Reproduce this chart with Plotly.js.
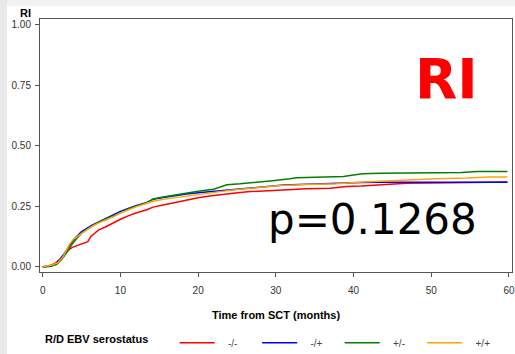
<!DOCTYPE html>
<html>
<head>
<meta charset="utf-8">
<script src="https://cdn.plot.ly/plotly-3.0.1.min.js"></script>
<style>
  html, body { margin: 0; padding: 0; }
  body { width: 515px; height: 354px; background: #f2f2f2; position: relative; overflow: hidden; }
  #leftstrip { position: absolute; left: 0; top: 0; width: 7px; height: 354px; background: #e9e9e9; }
  #sheet { position: absolute; left: 7px; top: 6px; width: 508px; height: 348px; background: #ffffff; }
  #chart { position: absolute; left: 0; top: 0; width: 515px; height: 354px; }
</style>
</head>
<body>
<div id="leftstrip"></div>
<div id="sheet"></div>
<div id="chart"></div>
<script>
// Series: cumulative incidence of RI by R/D EBV serostatus
const seriesNames = ['-/-', '-/+', '+/-', '+/+'];
const seriesColors = ['#ff0000', '#0000ff', '#008000', '#ffa500'];

const redX = [0, 0.8, 1.5, 2.2, 2.8, 3.3, 3.8, 4.5, 5.2, 5.8, 6.2, 6.7, 7.2, 8, 9, 10, 11, 12, 13.4, 14.2, 15.5, 17, 18.5, 20, 21.5, 22.8, 24.5, 26.7, 28.5, 30, 31.8, 34, 37, 39.1, 41, 43.4, 44.1, 46.8, 50, 53, 57.1, 59.8];
const redY = [0, 0.003, 0.012, 0.03, 0.05, 0.068, 0.08, 0.088, 0.097, 0.103, 0.125, 0.14, 0.152, 0.163, 0.18, 0.196, 0.21, 0.222, 0.235, 0.246, 0.255, 0.266, 0.276, 0.285, 0.292, 0.298, 0.303, 0.31, 0.313, 0.316, 0.32, 0.322, 0.324, 0.331, 0.333, 0.337, 0.339, 0.345, 0.346, 0.347, 0.35, 0.35];

const blueX = [0, 1, 1.7, 2.2, 2.7, 3.2, 3.7, 4.2, 5.0, 5.6, 6.3, 7, 8, 9, 10, 11, 12, 13.4, 14.2, 15.5, 17, 18.5, 20, 22.8, 24.5, 26.7, 28.5, 31, 33, 35.3, 37, 39.1, 41, 43.4, 50, 55, 59.8];
const blueY = [0, 0.002, 0.01, 0.03, 0.05, 0.075, 0.1, 0.12, 0.145, 0.158, 0.17, 0.182, 0.198, 0.212, 0.228, 0.24, 0.252, 0.265, 0.278, 0.286, 0.294, 0.3, 0.305, 0.313, 0.32, 0.327, 0.331, 0.337, 0.339, 0.342, 0.344, 0.347, 0.348, 0.349, 0.349, 0.349, 0.349];

const greenX = [0, 1, 1.8, 2.4, 2.9, 3.4, 3.9, 4.5, 5.0, 5.6, 6.3, 7, 8, 9, 10, 11, 12, 13.4, 14.2, 15.5, 17, 18.5, 20, 22, 23.7, 25.4, 28, 29.6, 31.8, 32.7, 35, 38.7, 40, 41.2, 43.4, 48, 53.9, 55.9, 59.8];
const greenY = [0, 0.002, 0.01, 0.028, 0.05, 0.075, 0.098, 0.12, 0.138, 0.153, 0.167, 0.18, 0.195, 0.208, 0.222, 0.238, 0.25, 0.263, 0.28, 0.288, 0.297, 0.306, 0.312, 0.32, 0.338, 0.342, 0.349, 0.355, 0.363, 0.367, 0.369, 0.372, 0.379, 0.384, 0.386, 0.386, 0.389, 0.393, 0.393];

const orangeX = [0, 0.7, 1.3, 2.0, 2.6, 3.0, 3.5, 4.0, 5.0, 5.6, 6.3, 7, 8, 9, 10, 11, 12, 13.4, 14.2, 15.5, 17, 18.5, 20, 22.8, 24.5, 26.7, 28.5, 30.1, 34, 37.8, 41.2, 43.4, 44.3, 50.7, 54.6, 57.3, 59.8];
const orangeY = [0, 0.003, 0.008, 0.018, 0.04, 0.065, 0.095, 0.115, 0.138, 0.152, 0.165, 0.178, 0.19, 0.205, 0.222, 0.235, 0.247, 0.262, 0.27, 0.278, 0.285, 0.292, 0.298, 0.31, 0.317, 0.324, 0.328, 0.334, 0.339, 0.342, 0.35, 0.353, 0.356, 0.363, 0.366, 0.37, 0.37];

const xTicks = [0, 10, 20, 30, 40, 50, 60];
const yTicks = [0, 0.25, 0.5, 0.75, 1.0];
const yTickLabels = ['0.00', '0.25', '0.50', '0.75', '1.00'];

const pText = 'p=0.1268';
const bigLabel = 'RI';
const legendTitle = 'R/D EBV serostatus';

const xs = [redX, blueX, greenX, orangeX];
const ys = [redY, blueY, greenY, orangeY];

const nb = '\u00a0';
const traces = seriesNames.map((n, i) => ({
  type: 'scatter', mode: 'lines', name: nb.repeat(3) + n,
  x: xs[i], y: ys[i],
  line: { color: seriesColors[i], width: 1.5, shape: 'linear' }
}));

const axisFont = { family: 'Liberation Sans, Arial, sans-serif', size: 10, color: '#333333' };

const layout = {
  width: 515, height: 354,
  paper_bgcolor: 'rgba(0,0,0,0)', plot_bgcolor: '#ffffff',
  margin: { l: 40, r: 3, t: 19, b: 82, autoexpand: false },
  showlegend: true,
  xaxis: {
    range: [-0.35, 60.39], tickvals: xTicks, ticks: 'outside', ticklen: 4, tickcolor: '#555',
    showline: true, mirror: true, linecolor: '#555', linewidth: 1,
    showgrid: false, zeroline: false, tickfont: axisFont, ticklabelstandoff: 5,
    title: { text: '<b>Time from SCT (months)</b>', font: { family: 'Liberation Sans, Arial, sans-serif', size: 11, color: '#000' }, standoff: 16 }
  },
  yaxis: {
    range: [-0.022, 1.023], tickvals: yTicks, ticktext: yTickLabels, ticks: 'outside', ticklen: 4, tickcolor: '#555',
    showline: true, mirror: true, linecolor: '#555', linewidth: 1,
    showgrid: false, zeroline: false, tickfont: axisFont, ticklabelstandoff: 2
  },
  legend: {
    orientation: 'h', x: 0.0064, xanchor: 'left', y: -0.28, yanchor: 'middle',
    title: { text: '<b>' + legendTitle + '</b>' + nb.repeat(6), side: 'left', font: { family: 'Liberation Sans, Arial, sans-serif', size: 11, color: '#000' } },
    font: { family: 'Liberation Sans, Arial, sans-serif', size: 10, color: '#444' },
    entrywidth: 32.5, entrywidthmode: 'pixels', itemwidth: 35, bgcolor: 'rgba(0,0,0,0)'
  },
  annotations: [
    { xref: 'paper', yref: 'paper', x: -0.0297, y: 1.024, text: '<b>' + bigLabel + '</b>', showarrow: false,
      xanchor: 'center', yanchor: 'middle', font: { family: 'Liberation Sans, Arial, sans-serif', size: 11, color: '#000' } },
    { xref: 'x', yref: 'y', x: 51.9, y: 0.777, text: '<b>' + bigLabel + '</b>', showarrow: false,
      xanchor: 'center', yanchor: 'middle', font: { family: 'DejaVu Sans, sans-serif', size: 55, color: '#ff0000' } },
    { xref: 'x', yref: 'y', x: 42.45, y: 0.193, text: pText, showarrow: false,
      xanchor: 'center', yanchor: 'middle', font: { family: 'DejaVu Sans, sans-serif', size: 42, color: '#000' } }
  ]
};

Plotly.newPlot('chart', traces, layout, { displayModeBar: false, staticPlot: true });
</script>
</body>
</html>
